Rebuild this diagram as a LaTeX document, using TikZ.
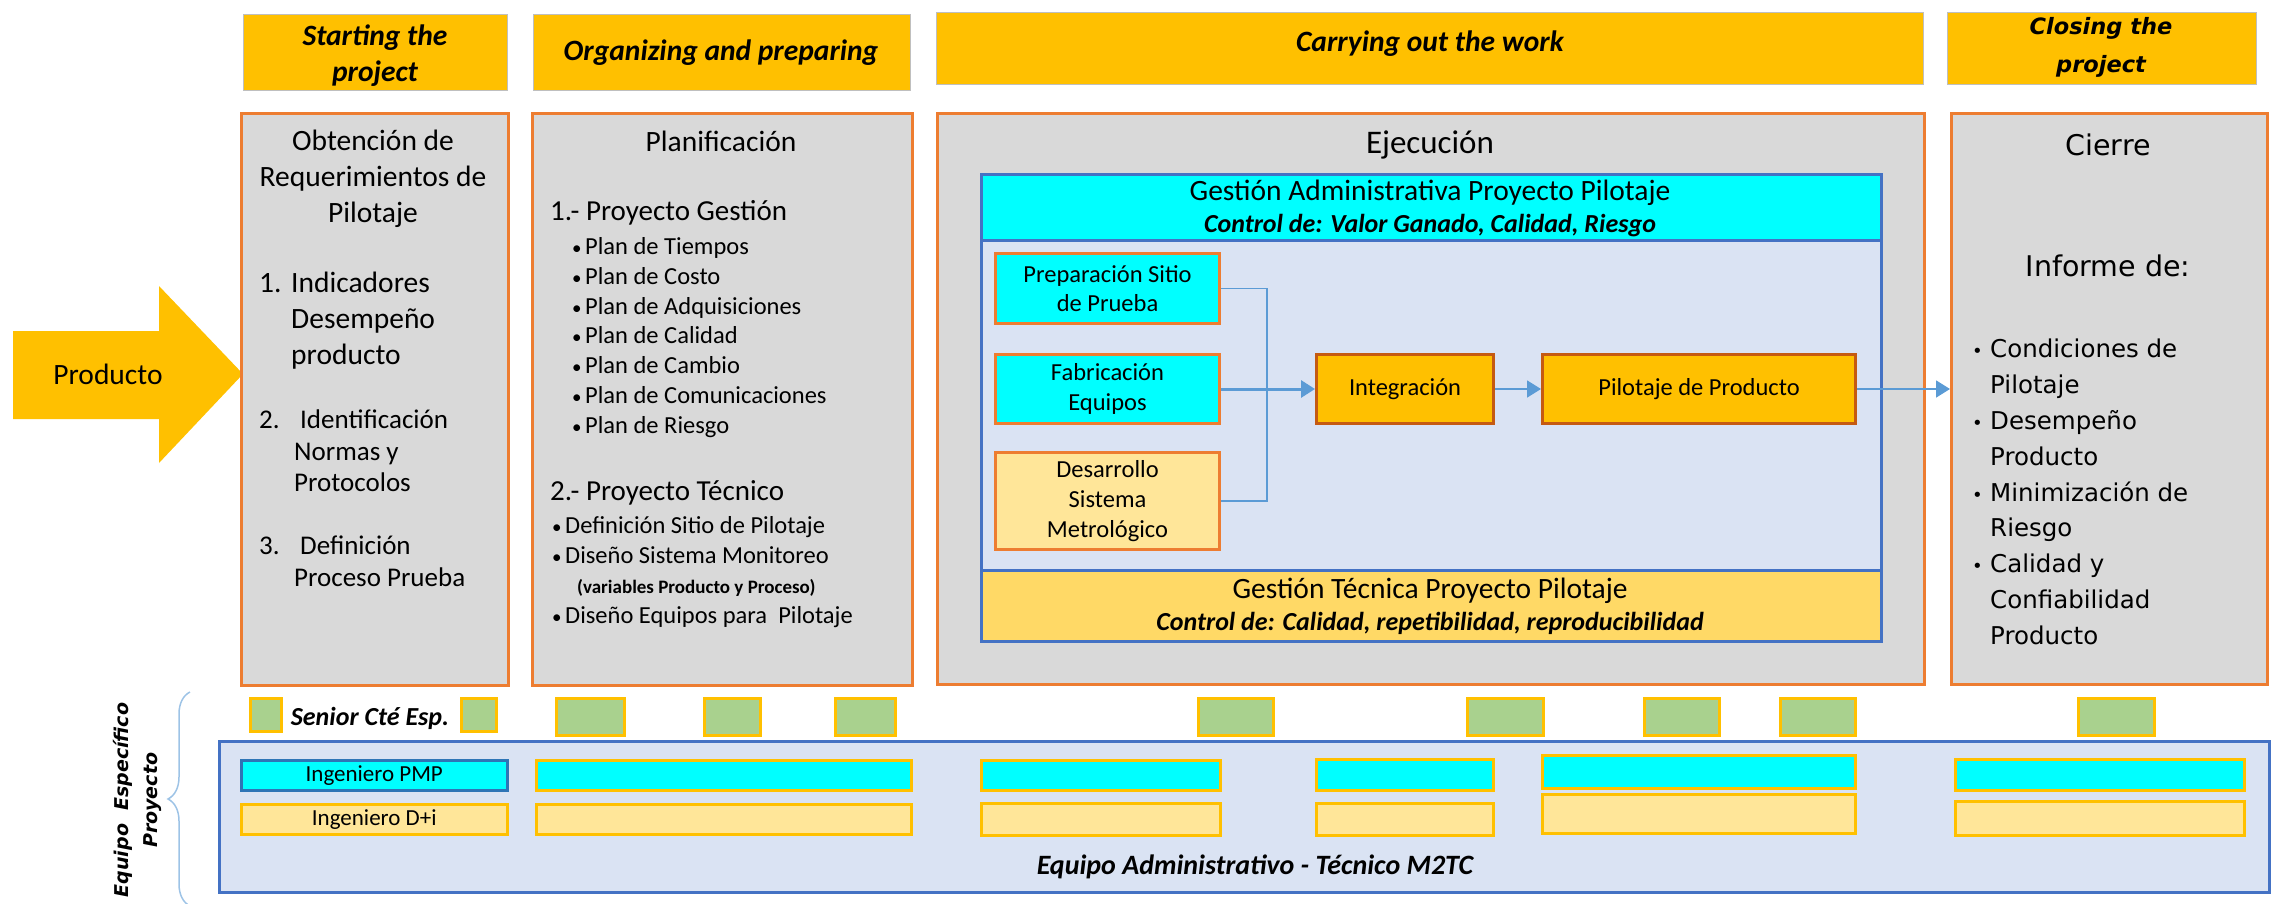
\documentclass[tikz,border=0pt]{standalone}
\usepackage{fontspec}
\setmainfont{Carlito}
\newfontfamily\verdfont{DejaVu Sans}
\usetikzlibrary{arrows.meta,decorations.pathreplacing}

\definecolor{gold}{HTML}{FFC000}
\definecolor{hdrline}{HTML}{BFBFBF}
\definecolor{panelgray}{HTML}{D9D9D9}
\definecolor{phaseline}{HTML}{ED7D31}
\definecolor{darkorange}{HTML}{C55A11}
\definecolor{aqua}{HTML}{00FFFF}
\definecolor{lightgold}{HTML}{FFE699}
\definecolor{midgold}{HTML}{FFD966}
\definecolor{paleblue}{HTML}{DAE3F3}
\definecolor{frameblue}{HTML}{4472C4}
\definecolor{linkblue}{HTML}{5B9BD5}
\definecolor{barblue}{HTML}{2E75B6}
\definecolor{sage}{HTML}{A9D18E}
\definecolor{bracecol}{HTML}{9DC3E6}

\newcommand{\fsz}[2]{\fontsize{#1pt}{#2pt}\selectfont}
% small bullet followed by a fixed gap
\newcommand{\bul}[1]{\makebox[#1][l]{\fsz{19}{19}•}}
\newcommand{\vbul}{\makebox[18pt][l]{\fsz{18}{18}•}}

\begin{document}
\begin{tikzpicture}[x=1pt,y=-1pt,
  box/.style={rectangle, anchor=north west, inner sep=0pt, align=center},
  hdr/.style={box, draw=hdrline, line width=1pt, fill=gold},
  hdrtxt/.style={inner sep=0pt, align=center, font=\fsz{29.5}{36}\bfseries\itshape},
  phase/.style={box, draw=phaseline, line width=3pt, fill=panelgray},
  band/.style={box, draw=frameblue, line width=3pt},
  task/.style={box, draw=phaseline, line width=3pt, font=\fsz{24.5}{29.7}},
  keytask/.style={box, draw=darkorange, line width=3pt, fill=gold, font=\fsz{24.5}{29.7}},
  txt/.style={inner sep=0pt, align=center},
  lst/.style={inner sep=0pt, anchor=west},
  link/.style={draw=linkblue, line width=1.6pt},
  tip/.style={-{Triangle[length=14pt,width=17pt]}},
  senior/.style={box, draw=gold, line width=2.5pt, fill=sage},
  pmpbar/.style={box, draw=gold, line width=2.5pt, fill=aqua},
  dibar/.style={box, draw=gold, line width=2.5pt, fill=lightgold}
]
\useasboundingbox (0,0) rectangle (2272,904);

% ---------- phase headers ----------
\node[hdr, minimum width=264pt, minimum height=76pt] (h1) at (243,14) {};
\node[hdr, minimum width=377pt, minimum height=76pt] (h2) at (533,14) {};
\node[hdr, minimum width=987pt, minimum height=72pt] (h3) at (936,12) {};
\node[hdr, minimum width=309pt, minimum height=72pt] (h4) at (1947,12) {};
\node[hdrtxt] (h1t) at (375,56) {Starting the\\project};
\node[hdrtxt] (h2t) at (721,53) {Organizing and preparing};
\node[hdrtxt] (h3t) at (1430,44) {Carrying out the work};
\node[hdrtxt, font=\verdfont\fsz{22.5}{38}\bfseries\itshape] (h4t) at (2101,47) {Closing the\\project};

% ---------- incoming product arrow ----------
\path[fill=gold] (13,331) -- (159,331) -- (159,286) -- (243,374) -- (159,463) -- (159,419) -- (13,419) -- cycle;
\node[txt, font=\fsz{29.5}{36}] (prod) at (108,374) {Producto};

% ---------- phase boxes ----------
\node[phase, minimum width=267pt, minimum height=572pt] (p1) at (240,112) {};
\node[phase, minimum width=380pt, minimum height=572pt] (p2) at (531,112) {};
\node[phase, minimum width=987pt, minimum height=571pt] (p3) at (936,112) {};
\node[phase, minimum width=316pt, minimum height=571pt] (p4) at (1950,112) {};

% ---------- requirements ----------
\node[txt, font=\fsz{29.5}{36}] (obtT) at (373,179) {Obtención de\\Requerimientos de\\Pilotaje};
\node[lst, font=\fsz{29.5}{36}] (obt1) at (259,321)
  {\begin{tabular}{@{}l@{}l@{}}\makebox[32pt][l]{1.}&Indicadores\\&Desempeño\\&producto\end{tabular}};
\node[lst, font=\fsz{27}{31.5}] (obt2) at (259,454)
  {\begin{tabular}{@{}l@{}l@{}}\makebox[35pt][l]{2.}&\hspace{6pt}Identificación\\&Normas y\\&Protocolos\end{tabular}};
\node[lst, font=\fsz{27}{31.5}] (obt3) at (259,564)
  {\begin{tabular}{@{}l@{}l@{}}\makebox[35pt][l]{3.}&\hspace{6pt}Definición\\&Proceso Prueba\end{tabular}};

% ---------- planning ----------
\node[txt, font=\fsz{29.5}{36}] (planT) at (721,141) {Planificación};
\node[lst, font=\fsz{29}{36}] (g1) at (550,213) {1.- Proyecto Gestión};
\node[lst, font=\fsz{24.5}{29.8}] (g1l) at (572,338)
  {\begin{tabular}{@{}l@{}l@{}}
   \bul{13pt}&Plan de Tiempos\\
   \bul{13pt}&Plan de Costo\\
   \bul{13pt}&Plan de Adquisiciones\\
   \bul{13pt}&Plan de Calidad\\
   \bul{13pt}&Plan de Cambio\\
   \bul{13pt}&Plan de Comunicaciones\\
   \bul{13pt}&Plan de Riesgo
   \end{tabular}};
\node[lst, font=\fsz{29}{36}] (g2) at (550,493) {2.- Proyecto Técnico};
\node[lst, font=\fsz{24.5}{30}] (g2l) at (552,572)
  {\begin{tabular}{@{}l@{}l@{}}
   \bul{13pt}&Definición Sitio de Pilotaje\\
   \bul{13pt}&Diseño Sistema Monitoreo\\
   &\hspace{12pt}{\fsz{19}{30}\bfseries (variables Producto y Proceso)}\\
   \bul{13pt}&Diseño Equipos para\ \ Pilotaje
   \end{tabular}};

% ---------- execution ----------
\node[txt, font=\fsz{33}{36}] (ejT) at (1430,145) {Ejecución};
\node[band, fill=paleblue, minimum width=900pt, minimum height=330pt] (mid) at (980,239) {};
\node[band, fill=aqua, minimum width=900pt, minimum height=66pt] (adm) at (980,173) {};
\node[band, fill=midgold, minimum width=900pt, minimum height=71pt] (tec) at (980,569) {};
\node[txt, font=\fsz{29.5}{36}] (admT) at (1430,193) {Gestión Administrativa Proyecto Pilotaje};
\node[txt, font=\fsz{26}{30}\bfseries\itshape] (admC) at (1430,226) {Control de: Valor Ganado, Calidad, Riesgo};
\node[txt, font=\fsz{29.5}{36}] (tecT) at (1430,591) {Gestión Técnica Proyecto Pilotaje};
\node[txt, font=\fsz{26}{30}\bfseries\itshape] (tecC) at (1430,623) {Control de: Calidad, repetibilidad, reproducibilidad};

\node[task, fill=aqua, minimum width=224pt, minimum height=70pt] (prep) at (994,252) {Preparación Sitio\\de Prueba};
\node[task, fill=aqua, minimum width=224pt, minimum height=69pt] (fab) at (994,353) {Fabricación\\Equipos};
\node[task, fill=lightgold, minimum width=224pt, minimum height=97pt] (des) at (994,451) {Desarrollo\\Sistema\\Metrológico};
\node[keytask, minimum width=177pt, minimum height=69pt] (integ) at (1315,353) {Integración};
\node[keytask, minimum width=313pt, minimum height=69pt] (pil) at (1541,353) {Pilotaje de Producto};

\coordinate (jn) at (1267,387.5);
\draw[link] (prep.east) -| (jn);
\draw[link] (des.east) -| (jn);
\draw[link, line width=3pt, tip] (fab.east) -- (integ.west);
\draw[link, tip] (integ.east) -- (pil.west);
\draw[link, tip] (pil.east) -- (pil.east -| p4.west);

% ---------- closing ----------
\node[txt, font=\verdfont\fsz{28.5}{36}] (ciT) at (2108,145) {Cierre};
\node[txt, font=\verdfont\fsz{28.5}{36}] (inf) at (2108,266) {Informe de:};
\node[lst, font=\verdfont\fsz{24.5}{35.8}] (cil) at (1972,494)
  {\begin{tabular}{@{}l@{}l@{}}
   \vbul&Condiciones de\\&Pilotaje\\
   \vbul&Desempeño\\&Producto\\
   \vbul&Minimización de\\&Riesgo\\
   \vbul&Calidad y\\&Confiabilidad\\&Producto
   \end{tabular}};

% ---------- project team ----------
\draw[draw=bracecol, line width=1.5pt, decoration={brace, amplitude=22pt}, decorate]
  (190,906) -- (190,692);
\node[txt, rotate=90, font=\verdfont\fsz{19}{29}\bfseries\itshape] (team) at (137,800) {Equipo\ \ Específico\\Proyecto};

\foreach \a/\b/\h [count=\k] in {249/280/33, 460/495/33, 555/623/37, 703/759/37, 834/894/37,
    1197/1272/37, 1466/1542/37, 1643/1718/37, 1779/1854/37, 2077/2153/37}
  \node[senior, minimum width={(\b-\a)*1pt}, minimum height={\h pt}] (sen\k) at (\a,697) {};
\node[txt, font=\fsz{26}{30}\bfseries\itshape] (senT) at (370,718) {Senior Cté Esp.};

\node[box, draw=frameblue, line width=2.5pt, fill=paleblue, minimum width=2050pt, minimum height=151pt] (panel) at (218,740) {};

\node[pmpbar, draw=barblue, minimum width=266pt, minimum height=30pt, font=\fsz{23}{26}] (pmp0) at (240,759) {Ingeniero PMP};
\node[dibar, minimum width=266pt, minimum height=30pt, font=\fsz{23}{26}] (di0) at (240,803) {Ingeniero D+i};
\foreach \a/\b/\t/\h [count=\k] in {535/910/759/30, 980/1219/759/30, 1315/1492/758/31, 1541/1854/754/33, 1954/2243/758/31}
  \node[pmpbar, minimum width={(\b-\a)*1pt}, minimum height={\h pt}] (pmp\k) at (\a,\t) {};
\foreach \a/\b/\t/\h [count=\k] in {535/910/803/30, 980/1219/802/32, 1315/1492/802/32, 1541/1854/793/39, 1954/2243/800/34}
  \node[dibar, minimum width={(\b-\a)*1pt}, minimum height={\h pt}] (di\k) at (\a,\t) {};

\node[txt, font=\fsz{28}{30}\bfseries\itshape] (panT) at (1255,867) {Equipo Administrativo - Técnico M2TC};

\end{tikzpicture}
\end{document}
